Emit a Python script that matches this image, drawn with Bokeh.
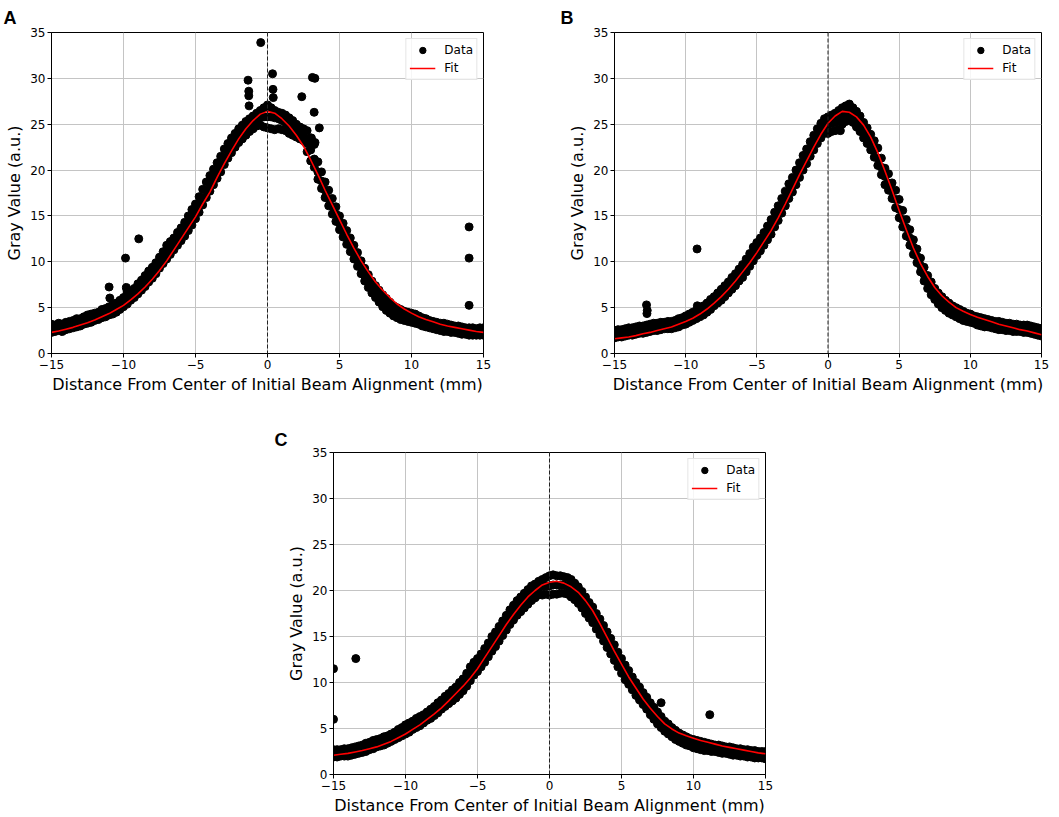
from bokeh.plotting import figure
from bokeh.models import Span, Spacer, ColumnDataSource
from bokeh.layouts import column, row
from bokeh.embed import file_html
from bokeh.resources import INLINE

# ---------------- shared sample positions (mm) ----------------
X = [-15.0, -14.75, -14.5, -14.25, -14.0, -13.75, -13.5, -13.25, -13.0, -12.75,
     -12.5, -12.25, -12.0, -11.75, -11.5, -11.25, -11.0, -10.75, -10.5, -10.25,
     -10.0, -9.75, -9.5, -9.25, -9.0, -8.75, -8.5, -8.25, -8.0, -7.75,
     -7.5, -7.25, -7.0, -6.75, -6.5, -6.25, -6.0, -5.75, -5.5, -5.25,
     -5.0, -4.75, -4.5, -4.25, -4.0, -3.75, -3.5, -3.25, -3.0, -2.75,
     -2.5, -2.25, -2.0, -1.75, -1.5, -1.25, -1.0, -0.75, -0.5, -0.25,
     0.0, 0.25, 0.5, 0.75, 1.0, 1.25, 1.5, 1.75, 2.0, 2.25,
     2.5, 2.75, 3.0, 3.25, 3.5, 3.75, 4.0, 4.25, 4.5, 4.75,
     5.0, 5.25, 5.5, 5.75, 6.0, 6.25, 6.5, 6.75, 7.0, 7.25,
     7.5, 7.75, 8.0, 8.25, 8.5, 8.75, 9.0, 9.25, 9.5, 9.75,
     10.0, 10.25, 10.5, 10.75, 11.0, 11.25, 11.5, 11.75, 12.0, 12.25,
     12.5, 12.75, 13.0, 13.25, 13.5, 13.75, 14.0, 14.25, 14.5, 14.75, 15.0]

FX = [-15.0, -14.5, -14.0, -13.5, -13.0, -12.5, -12.0, -11.5, -11.0, -10.5,
      -10.0, -9.5, -9.0, -8.5, -8.0, -7.5, -7.0, -6.5, -6.0, -5.5,
      -5.0, -4.5, -4.0, -3.5, -3.0, -2.5, -2.0, -1.5, -1.0, -0.5,
      0.0, 0.5, 1.0, 1.5, 2.0, 2.5, 3.0, 3.5, 4.0, 4.5,
      5.0, 5.5, 6.0, 6.5, 7.0, 7.5, 8.0, 8.5, 9.0, 9.5,
      10.0, 10.5, 11.0, 11.5, 12.0, 12.5, 13.0, 13.5, 14.0, 14.5, 15.0]

# ---------------- panel A ----------------
A_hi = [3.2, 3.1, 3.3, 3.2, 3.4, 3.5, 3.6, 3.8, 3.8, 4.0,
        4.2, 4.3, 4.4, 4.5, 4.8, 4.9, 5.1, 5.3, 5.5, 5.8,
        6.1, 6.5, 6.8, 7.1, 7.6, 8.0, 8.5, 9.0, 9.4, 9.9,
        10.5, 11.1, 11.8, 12.2, 12.6, 13.2, 13.7, 14.3, 15.0, 15.7,
        16.3, 17.1, 17.9, 18.7, 19.4, 20.1, 20.8, 21.5, 22.3, 22.9,
        23.5, 24.0, 24.5, 24.9, 25.3, 25.6, 25.9, 26.2, 26.5, 26.8,
        27.1, 26.8, 26.5, 26.3, 26.2, 26.0, 25.7, 25.4, 25.0, 24.7,
        24.5, 24.3, 23.5, 22.8, 20.9, 19.8, 18.7, 17.8, 16.9, 16.0,
        15.0, 14.2, 13.4, 12.6, 11.8, 11.0, 10.1, 9.3, 8.6, 7.9,
        7.4, 6.9, 6.4, 6.0, 5.6, 5.2, 5.0, 4.8, 4.6, 4.5,
        4.4, 4.3, 4.1, 3.9, 3.8, 3.6, 3.5, 3.4, 3.3, 3.3,
        3.2, 3.1, 3.0, 3.0, 2.9, 2.8, 2.8, 2.8, 2.7, 2.8, 2.8]
A_mid = [2.8, 2.8, 2.9, 2.9, 3.0, 3.1, 3.2, 3.3, 3.4, 3.6,
         3.7, 3.85, 4.0, 4.1, 4.3, 4.45, 4.6, 4.8, 5.0, 5.3,
         5.6, 5.9, 6.3, 6.6, 7.0, 7.4, 7.9, 8.4, 8.8, 9.3,
         9.9, 10.4, 11.0, 11.5, 12.0, 12.5, 13.0, 13.5, 14.2, 14.8,
         15.5, 16.3, 17.0, 17.8, 18.5, 19.2, 19.9, 20.6, 21.4, 22.1,
         22.7, 23.2, 23.7, 24.1, 24.5, 24.9, 25.2, 25.5, 25.7, 25.8,
         25.8, 25.8, 25.7, 25.6, 25.4, 25.2, 24.9, 24.6, 24.3, 24.0,
         23.6, 22.9, 22.2, 21.2, 19.8, 18.8, 17.8, 16.9, 16.0, 15.2,
         14.2, 13.4, 12.6, 11.8, 11.0, 10.2, 9.4, 8.5, 7.8, 7.2,
         6.7, 6.2, 5.7, 5.3, 4.9, 4.6, 4.4, 4.2, 4.1, 4.0,
         3.9, 3.8, 3.6, 3.45, 3.3, 3.2, 3.1, 3.0, 2.9, 2.85,
         2.8, 2.7, 2.65, 2.6, 2.5, 2.45, 2.4, 2.4, 2.4, 2.4, 2.4]
A_lo = [2.3, 2.4, 2.5, 2.4, 2.6, 2.7, 2.8, 2.9, 3.0, 3.2,
        3.3, 3.4, 3.6, 3.7, 3.9, 4.0, 4.2, 4.3, 4.5, 4.8,
        5.1, 5.4, 5.8, 6.1, 6.5, 6.9, 7.3, 7.8, 8.2, 8.7,
        9.3, 9.8, 10.3, 10.8, 11.3, 11.8, 12.3, 12.8, 13.4, 14.0,
        14.7, 15.4, 16.2, 17.0, 17.7, 18.4, 19.1, 19.8, 20.6, 21.3,
        21.9, 22.5, 23.0, 23.4, 23.8, 24.2, 24.5, 24.8, 24.9, 24.7,
        24.6, 24.5, 24.4, 24.5, 24.4, 24.3, 24.0, 23.8, 23.6, 23.4,
        23.2, 22.0, 21.0, 20.3, 19.0, 18.0, 17.0, 16.1, 15.2, 14.4,
        13.5, 12.7, 11.9, 11.1, 10.3, 9.5, 8.7, 7.9, 7.2, 6.6,
        6.1, 5.6, 5.1, 4.7, 4.4, 4.1, 3.9, 3.7, 3.6, 3.5,
        3.4, 3.3, 3.2, 3.0, 2.9, 2.8, 2.7, 2.6, 2.5, 2.4,
        2.4, 2.3, 2.3, 2.2, 2.1, 2.1, 2.0, 2.0, 2.0, 2.0, 2.0]
A_out_x = [-11.0, -10.95, -9.86, -9.8, -9.75, -8.94, -1.35, -1.3, -1.3, -1.28,
           -0.47, 0.35, 0.38, 0.4, 2.38, 3.12, 3.29, 3.24, 3.6, 3.05, 3.3,
           14.0, 14.0, 14.0]
A_out_y = [7.25, 6.05, 10.4, 7.2, 6.9, 12.5, 29.8, 28.6, 28.1, 27.0,
           33.9, 30.5, 28.8, 27.9, 28.0, 30.1, 30.0, 26.3, 24.6, 23.5, 23.0,
           13.8, 10.4, 5.25]
A_fit = [2.3, 2.45, 2.65, 2.85, 3.1, 3.35, 3.65, 4.0, 4.35, 4.8,
         5.25, 5.85, 6.5, 7.25, 8.1, 9.05, 10.1, 11.3, 12.5, 13.7,
         14.9, 16.3, 17.6, 19.2, 20.7, 22.1, 23.4, 24.5, 25.4, 26.1,
         26.4, 26.2, 25.6, 24.8, 23.8, 22.6, 21.1, 19.5, 17.8, 16.2,
         14.6, 13.0, 11.5, 10.1, 8.9, 7.8, 6.9, 6.1, 5.4, 4.85,
         4.4, 4.0, 3.7, 3.45, 3.2, 3.0, 2.85, 2.7, 2.55, 2.4, 2.3]

# ---------------- panel B ----------------
B_hi = [2.5, 2.6, 2.6, 2.7, 2.8, 2.8, 2.9, 3.0, 3.0, 3.1,
        3.2, 3.3, 3.3, 3.4, 3.4, 3.5, 3.5, 3.6, 3.8, 3.9,
        4.1, 4.3, 4.5, 4.7, 4.9, 5.2, 5.5, 5.9, 6.2, 6.6,
        7.0, 7.4, 7.8, 8.3, 8.7, 9.2, 9.7, 10.3, 10.9, 11.6,
        12.1, 12.6, 13.2, 13.9, 14.6, 15.4, 16.1, 16.9, 17.7, 18.5,
        19.2, 20.0, 20.8, 21.6, 22.3, 23.1, 23.8, 24.5, 25.1, 25.6,
        25.8, 26.0, 26.2, 26.5, 26.8, 27.0, 27.2, 26.8, 26.4, 25.9,
        25.2, 24.6, 23.9, 23.2, 22.4, 21.3, 20.2, 19.6, 18.6, 17.8,
        16.8, 15.6, 14.6, 13.5, 12.4, 11.4, 10.4, 9.4, 8.5, 7.8,
        7.1, 6.6, 6.2, 5.8, 5.5, 5.2, 5.0, 4.8, 4.6, 4.4,
        4.3, 4.1, 4.0, 3.9, 3.8, 3.7, 3.6, 3.5, 3.5, 3.4,
        3.3, 3.3, 3.2, 3.2, 3.1, 3.1, 3.1, 3.0, 2.9, 2.8, 2.7]
B_mid = [2.1, 2.1, 2.2, 2.3, 2.4, 2.45, 2.5, 2.6, 2.65, 2.7,
         2.8, 2.9, 2.95, 3.0, 3.05, 3.1, 3.1, 3.2, 3.35, 3.5,
         3.7, 3.85, 4.0, 4.2, 4.45, 4.7, 5.0, 5.35, 5.7, 6.0,
         6.4, 6.8, 7.2, 7.6, 8.0, 8.5, 9.0, 9.6, 10.2, 10.8,
         11.4, 11.9, 12.5, 13.1, 13.8, 14.6, 15.3, 16.1, 16.9, 17.7,
         18.4, 19.2, 20.0, 20.8, 21.5, 22.3, 23.0, 23.7, 24.3, 24.8,
         25.0, 25.1, 25.2, 25.5, 25.8, 26.1, 26.3, 26.0, 25.5, 25.0,
         24.3, 23.7, 23.0, 22.2, 21.3, 20.3, 19.3, 18.6, 17.7, 16.8,
         15.7, 14.6, 13.7, 12.6, 11.6, 10.6, 9.6, 8.6, 7.8, 7.1,
         6.5, 6.0, 5.6, 5.2, 4.9, 4.7, 4.5, 4.3, 4.1, 3.95,
         3.8, 3.7, 3.55, 3.45, 3.35, 3.3, 3.2, 3.1, 3.05, 3.0,
         2.9, 2.9, 2.85, 2.8, 2.75, 2.7, 2.7, 2.6, 2.5, 2.4, 2.35]
B_lo = [1.7, 1.8, 1.8, 1.9, 2.0, 2.0, 2.1, 2.2, 2.2, 2.3,
        2.4, 2.5, 2.5, 2.6, 2.7, 2.7, 2.7, 2.8, 2.9, 3.1,
        3.2, 3.4, 3.6, 3.8, 4.0, 4.2, 4.5, 4.8, 5.2, 5.5,
        5.8, 6.2, 6.6, 7.0, 7.4, 7.9, 8.3, 8.9, 9.5, 10.1,
        10.7, 11.2, 11.8, 12.4, 13.0, 13.8, 14.5, 15.3, 16.1, 16.9,
        17.6, 18.4, 19.2, 20.0, 20.7, 21.5, 22.2, 22.9, 23.5, 24.0,
        24.0, 24.2, 24.3, 24.4, 25.0, 25.3, 25.5, 25.2, 24.7, 24.2,
        23.5, 22.9, 22.2, 21.4, 20.5, 19.5, 18.4, 17.8, 16.9, 15.9,
        14.8, 13.8, 12.8, 11.8, 10.8, 9.9, 8.9, 7.9, 7.1, 6.4,
        5.9, 5.4, 5.0, 4.7, 4.4, 4.2, 4.0, 3.8, 3.6, 3.5,
        3.4, 3.3, 3.1, 3.0, 2.9, 2.9, 2.8, 2.7, 2.6, 2.6,
        2.5, 2.5, 2.4, 2.4, 2.4, 2.3, 2.3, 2.2, 2.1, 2.0, 1.9]
B_out_x = [-12.75, -12.7, -12.72, -9.2, -9.18, -9.15, 0.87]
B_out_y = [5.3, 4.7, 4.35, 11.4, 5.2, 4.7, 24.3]
B_fit = [1.6, 1.7, 1.8, 1.95, 2.15, 2.3, 2.5, 2.7, 2.9, 3.2,
         3.5, 3.85, 4.3, 4.85, 5.5, 6.2, 7.0, 7.9, 8.9, 9.9,
         11.0, 12.2, 13.4, 14.8, 16.3, 17.9, 19.5, 21.0, 22.5, 23.9,
         25.1, 25.9, 26.4, 26.3, 25.8, 24.9, 23.6, 21.9, 19.9, 17.8,
         15.6, 13.5, 11.5, 9.8, 8.4, 7.2, 6.3, 5.6, 5.0, 4.6,
         4.25, 3.95, 3.7, 3.45, 3.2, 3.0, 2.8, 2.6, 2.45, 2.25, 2.05]

# ---------------- panel C ----------------
C_hi = [2.7, 2.7, 2.7, 2.8, 2.8, 2.9, 3.0, 3.1, 3.2, 3.4,
        3.5, 3.7, 3.8, 3.9, 4.1, 4.2, 4.4, 4.6, 4.9, 5.1,
        5.4, 5.6, 5.8, 6.1, 6.3, 6.5, 6.8, 7.1, 7.4, 7.8,
        8.1, 8.5, 8.8, 9.2, 9.5, 10.0, 10.4, 11.0, 11.7, 12.2,
        12.6, 13.1, 13.7, 14.3, 15.0, 15.5, 16.1, 16.7, 17.3, 17.9,
        18.4, 18.9, 19.3, 19.7, 20.1, 20.5, 20.7, 21.0, 21.2, 21.4,
        21.6, 21.7, 21.6, 21.6, 21.5, 21.4, 21.2, 20.8, 20.4, 19.9,
        19.3, 18.7, 18.2, 17.5, 16.9, 16.2, 15.5, 14.8, 14.1, 13.3,
        12.6, 11.9, 11.3, 10.6, 10.0, 9.5, 8.9, 8.4, 7.8, 7.3,
        6.8, 6.3, 5.8, 5.5, 5.1, 4.8, 4.5, 4.3, 4.1, 3.9,
        3.8, 3.7, 3.6, 3.5, 3.4, 3.3, 3.2, 3.2, 3.1, 3.0,
        3.0, 2.9, 2.8, 2.8, 2.7, 2.7, 2.6, 2.6, 2.5, 2.5, 2.5]
C_mid = [2.3, 2.3, 2.35, 2.4, 2.45, 2.5, 2.6, 2.7, 2.8, 2.95,
         3.1, 3.25, 3.4, 3.5, 3.65, 3.8, 4.0, 4.2, 4.4, 4.65,
         4.9, 5.1, 5.35, 5.6, 5.8, 6.05, 6.35, 6.6, 6.9, 7.25,
         7.6, 7.9, 8.25, 8.6, 8.9, 9.3, 9.7, 10.3, 10.9, 11.5,
         11.9, 12.4, 12.95, 13.5, 14.2, 14.7, 15.3, 15.9, 16.5, 17.1,
         17.6, 18.1, 18.5, 18.9, 19.3, 19.7, 20.0, 20.3, 20.4, 20.5,
         20.5, 20.6, 20.6, 20.6, 20.6, 20.5, 20.2, 19.9, 19.5, 19.0,
         18.4, 17.8, 17.3, 16.6, 16.0, 15.3, 14.6, 13.9, 13.2, 12.5,
         11.8, 11.1, 10.5, 9.9, 9.3, 8.8, 8.2, 7.7, 7.1, 6.6,
         6.1, 5.7, 5.2, 4.9, 4.6, 4.3, 4.05, 3.85, 3.65, 3.5,
         3.35, 3.25, 3.15, 3.05, 3.0, 2.9, 2.85, 2.8, 2.7, 2.65,
         2.6, 2.5, 2.45, 2.4, 2.35, 2.3, 2.25, 2.2, 2.15, 2.1, 2.1]
C_lo = [1.9, 1.9, 2.0, 2.0, 2.0, 2.1, 2.2, 2.3, 2.4, 2.5,
        2.7, 2.8, 3.0, 3.1, 3.2, 3.4, 3.6, 3.8, 4.0, 4.2,
        4.4, 4.6, 4.9, 5.1, 5.3, 5.6, 5.9, 6.1, 6.4, 6.7,
        7.1, 7.4, 7.7, 8.0, 8.3, 8.7, 9.1, 9.6, 10.2, 10.8,
        11.2, 11.7, 12.2, 12.8, 13.4, 13.9, 14.5, 15.1, 15.7, 16.3,
        16.8, 17.3, 17.7, 18.1, 18.5, 18.9, 19.2, 19.5, 19.5, 19.6,
        19.5, 19.6, 19.6, 19.7, 19.7, 19.6, 19.3, 19.0, 18.6, 18.1,
        17.5, 17.0, 16.5, 15.8, 15.2, 14.5, 13.8, 13.1, 12.4, 11.7,
        11.0, 10.3, 9.8, 9.2, 8.6, 8.1, 7.6, 7.1, 6.5, 6.0,
        5.5, 5.1, 4.7, 4.4, 4.1, 3.8, 3.6, 3.4, 3.2, 3.1,
        2.9, 2.8, 2.7, 2.6, 2.6, 2.5, 2.5, 2.4, 2.3, 2.3,
        2.2, 2.1, 2.1, 2.0, 2.0, 1.9, 1.9, 1.8, 1.8, 1.8, 1.7]
C_out_x = [-15.0, -15.0, -13.45, 7.75, 11.13]
C_out_y = [11.5, 6.0, 12.6, 7.8, 6.5]
C_fit = [2.1, 2.2, 2.3, 2.45, 2.6, 2.8, 3.0, 3.3, 3.6, 4.0,
         4.4, 4.9, 5.4, 6.0, 6.6, 7.25, 8.0, 8.8, 9.6, 10.5,
         11.5, 12.7, 13.9, 15.1, 16.3, 17.4, 18.4, 19.3, 20.0, 20.6,
         20.9, 21.0, 20.8, 20.4, 19.8, 18.9, 17.8, 16.4, 14.9, 13.4,
         12.0, 10.6, 9.4, 8.2, 7.2, 6.3, 5.5, 4.95, 4.5, 4.2,
         3.95, 3.7, 3.5, 3.3, 3.1, 2.95, 2.8, 2.65, 2.5, 2.35, 2.25]

X_TICKS = [-15, -10, -5, 0, 5, 10, 15]
X_TICK_LABELS = {-15: "\u221215", -10: "\u221210", -5: "\u22125"}
Y_TICKS = [0, 5, 10, 15, 20, 25, 30, 35]
X_LABEL = "Distance From Center of Initial Beam Alignment (mm)"
Y_LABEL = "Gray Value (a.u.)"
FONT = "DejaVu Sans"


def make_panel(letter, hi, mid, lo, ox, oy, fit, width, height,
               bl, br, bt, bb, letter_offset, letter_standoff):
    p = figure(width=width, height=height, x_range=(-15, 15), y_range=(0, 35),
               output_backend="svg", toolbar_location=None,
               min_border_left=bl, min_border_right=br,
               min_border_top=bt, min_border_bottom=bb,
               title=letter)
    p.title.align = "left"
    p.title.offset = letter_offset
    p.title.standoff = letter_standoff
    p.title.text_font = "Liberation Sans"
    p.title.text_font_size = "18px"
    p.title.text_font_style = "bold"
    p.title.text_color = "black"

    p.background_fill_color = "white"
    p.border_fill_color = "white"
    p.outline_line_color = "black"
    p.outline_line_width = 1

    for ax in (p.xaxis, p.yaxis):
        ax.axis_line_color = "black"
        ax.major_tick_line_color = "black"
        ax.major_tick_in = 0
        ax.major_tick_out = 4
        ax.minor_tick_in = 0
        ax.minor_tick_out = 0
        ax.major_label_text_font = FONT
        ax.major_label_text_font_size = "12px"
        ax.major_label_text_color = "black"
        ax.major_label_standoff = 2
        ax.axis_label_text_font = FONT
        ax.axis_label_text_font_size = "16px"
        ax.axis_label_text_font_style = "normal"
        ax.axis_label_text_color = "black"
        ax.axis_label_standoff = 3
    p.xaxis.ticker = X_TICKS
    p.xaxis.major_label_overrides = X_TICK_LABELS
    p.yaxis.ticker = Y_TICKS
    p.xaxis.axis_label = X_LABEL
    p.yaxis.axis_label = Y_LABEL

    p.grid.grid_line_color = "#c4c4c4"
    p.grid.grid_line_width = 1

    src = ColumnDataSource(dict(x=X + X + X + ox, y=hi + mid + lo + oy))
    p.scatter("x", "y", source=src, size=8, fill_color="black",
              line_color="black", legend_label="Data")
    p.add_layout(Span(location=0, dimension="height", line_color="#222222",
                      line_dash="4 2", line_width=1))
    p.line(FX, fit, line_color="#ff0000", line_width=1.6, legend_label="Fit")

    lg = p.legend[0]
    lg.location = "top_right"
    lg.margin = 6
    lg.padding = 3
    lg.spacing = 2
    lg.label_height = 16
    lg.glyph_height = 16
    lg.glyph_width = 26
    lg.label_standoff = 9
    lg.label_text_font = FONT
    lg.label_text_font_size = "12px"
    lg.label_text_color = "black"
    lg.border_line_color = "#cccccc"
    lg.border_line_width = 1
    lg.background_fill_alpha = 0.85
    return p


pA = make_panel("A", A_hi, A_mid, A_lo, A_out_x, A_out_y, A_fit,
                width=530, height=416, bl=51, br=47, bt=32, bb=63,
                letter_offset=-48, letter_standoff=10)
pB = make_panel("B", B_hi, B_mid, B_lo, B_out_x, B_out_y, B_fit,
                width=527, height=416, bl=84, br=16, bt=32, bb=63,
                letter_offset=-54, letter_standoff=10)
pC = make_panel("C", C_hi, C_mid, C_lo, C_out_x, C_out_y, C_fit,
                width=512, height=401, bl=60, br=20, bt=36, bb=43,
                letter_offset=-59, letter_standoff=5)

layout = column(row(pA, pB), row(Spacer(width=273, height=401), pC))

open("out.html", "w").write(file_html(layout, INLINE))
